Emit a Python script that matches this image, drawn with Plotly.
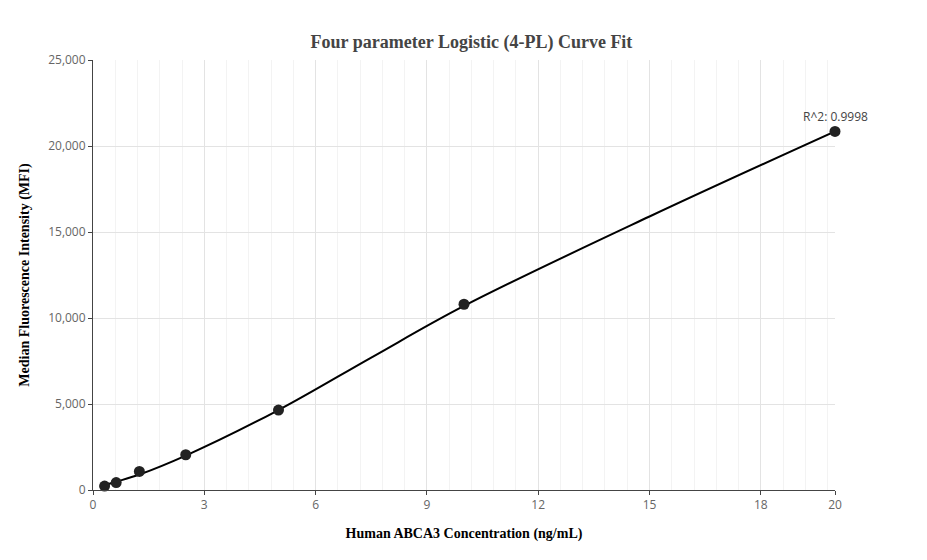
import plotly.graph_objects as go

conc = [0.3125, 0.625, 1.25, 2.5, 5, 10, 20]
mfi = [230, 430, 1080, 2050, 4650, 10800, 20850]

# fitted curve
curve_x = [0.3125, 0.625, 1.25, 2.5, 5, 7.5, 10, 15, 20]
curve_y = [280, 480, 900, 2000, 4650, 7700, 10700, 15900, 20850]

x_ticks = [0, 3, 6, 9, 12, 15, 18, 20]

fig = go.Figure()
fig.add_trace(go.Scatter(x=curve_x, y=curve_y, mode="lines",
                         line=dict(color="black", width=2, shape="spline"),
                         hoverinfo="skip"))
fig.add_trace(go.Scatter(x=conc, y=mfi, mode="markers", cliponaxis=False,
                         marker=dict(color="#222", size=11)))
fig.add_annotation(x=20, y=mfi[-1], text="R^2: 0.9998", showarrow=False,
                   yshift=15, font=dict(size=12, color="#444", family="Open Sans"))

fig.update_layout(
    width=927, height=560, showlegend=False,
    plot_bgcolor="white", paper_bgcolor="white",
    margin=dict(l=85, r=100, t=52, b=78),
    title=dict(text="<b>Four parameter Logistic (4-PL) Curve Fit</b>", x=0.5, xanchor="center",
               y=0.94, yanchor="middle",
               font=dict(family="Times New Roman", size=18, color="#444")),
    xaxis=dict(range=[0, 20], tickvals=x_ticks, showgrid=True, gridcolor="#e3e3e3",
               minor=dict(dtick=0.6, showgrid=True, gridcolor="#f3f3f3"),
               showline=True, linecolor="#444", ticks="outside", ticklen=4,
               tickfont=dict(color="#666", size=12), zeroline=False,
               title=dict(text="<b>Human ABCA3 Concentration (ng/mL)</b>",
                          font=dict(family="Times New Roman", size=14, color="black"))),
    yaxis=dict(range=[0, 25000], dtick=5000, tickformat=",", showgrid=True,
               gridcolor="#e3e3e3", showline=True, linecolor="#444",
               ticks="outside", ticklen=4, zeroline=False,
               tickfont=dict(color="#666", size=12),
               title=dict(text="<b>Median Fluorescence Intensity (MFI)</b>",
                          font=dict(family="Times New Roman", size=14, color="black"))),
)
fig.write_html("out.html")
